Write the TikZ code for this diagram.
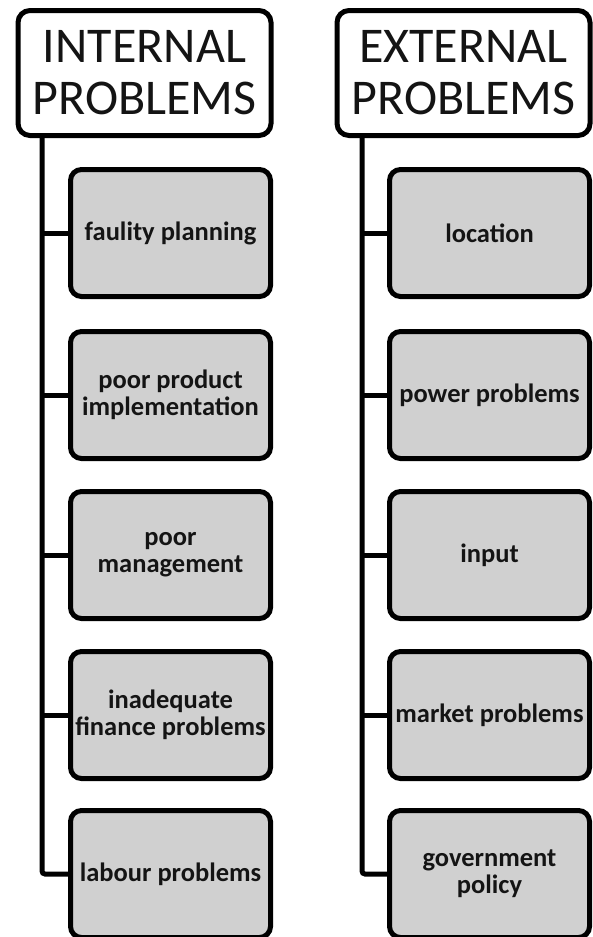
\documentclass[tikz,border=0pt]{standalone}
\usepackage{fontspec}
\setmainfont{Carlito}
\usepackage{tikz}
\usetikzlibrary{positioning}

\definecolor{boxgray}{RGB}{208,208,208}
\definecolor{inkblack}{RGB}{20,20,20}

\tikzset{
  head/.style = {draw = black, fill = white, shape = rectangle, rounded corners = 12pt, line width = 5pt,
                 minimum width = 253pt, minimum height = 125pt, align = center, text = inkblack,
                 font = \fontsize{50}{52}\selectfont, inner sep = 0pt},
  item/.style = {draw = black, fill = boxgray, shape = rectangle, rounded corners = 11pt, line width = 5pt,
                 minimum width = 200pt, minimum height = 127pt, align = center, text = inkblack,
                 font = \bfseries\fontsize{26.5}{27}\selectfont, inner sep = 0pt},
  link/.style = {draw = black, line width = 5pt, rounded corners = 3pt}
}

\begin{document}
\begin{tikzpicture}[x = 1pt, y = -1pt]
\useasboundingbox (0,0) rectangle (593,937);

% internal side
\node[head] (int) at (144.5,73) {INTERNAL\\PROBLEMS};
\node[item] (int1) at (170.5,233) {faulity planning};
\node[item] (int2) at (170.5,395) {poor product\\implementation};
\node[item] (int3) at (170.5,555) {poor\\management};
\node[item] (int4) at (170.5,715) {inadequate\\finance problems};
\node[item] (int5) at (170.5,874) {labour problems};

% external side
\node[head] (ext) at (463.5,73) {EXTERNAL\\PROBLEMS};
\node[item] (ext1) at (489.5,233) {location};
\node[item] (ext2) at (489.5,395) {power problems};
\node[item] (ext3) at (489.5,555) {input};
\node[item] (ext4) at (489.5,715) {market problems};
\node[item] (ext5) at (489.5,874) {government\\policy};

\coordinate (intTop) at (42,73);
\coordinate (extTop) at (362,73);

\draw[link] (int.south -| intTop) |- (int5.west);
\draw[link] (int1.west -| intTop) -- (int1.west);
\draw[link] (int2.west -| intTop) -- (int2.west);
\draw[link] (int3.west -| intTop) -- (int3.west);
\draw[link] (int4.west -| intTop) -- (int4.west);

\draw[link] (ext.south -| extTop) |- (ext5.west);
\draw[link] (ext1.west -| extTop) -- (ext1.west);
\draw[link] (ext2.west -| extTop) -- (ext2.west);
\draw[link] (ext3.west -| extTop) -- (ext3.west);
\draw[link] (ext4.west -| extTop) -- (ext4.west);
\end{tikzpicture}
\end{document}
